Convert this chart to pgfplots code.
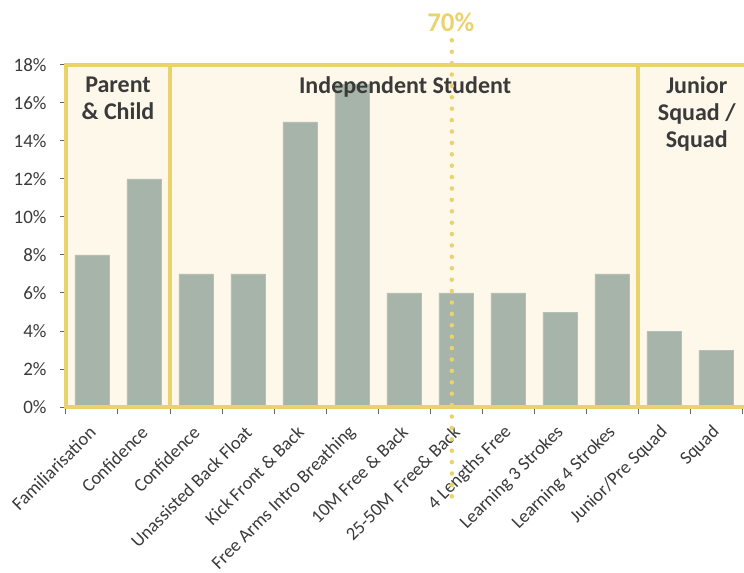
\documentclass[border=0pt]{standalone}
\usepackage{pgfplots}
\pgfplotsset{compat=1.18}
\usepackage{fontspec}
\setmainfont{Carlito}
\definecolor{yel}{HTML}{EAD36C}
\definecolor{cream}{HTML}{FDF8EA}
\definecolor{barc}{HTML}{A7B4AA}
\definecolor{txt}{HTML}{3A3A3A}
\begin{document}
\begin{tikzpicture}
\useasboundingbox (-66bp,-166bp) rectangle (678bp,407bp);
\begin{axis}[
  scale only axis, width=676bp, height=342bp,
  at={(0,0)}, anchor=south west,
  xmin=-0.5, xmax=12.5, ymin=0, ymax=18,
  axis line style={draw=none},
  clip=false,
  tick align=outside,
  xtick={0,...,12},
  xticklabels={Familiarisation,Confidence,Confidence,Unassisted Back Float,Kick Front \& Back,Free Arms Intro Breathing,10M Free \& Back,25-50M\ \ Free\& Back,4 Lengths Free,Learning 3 Strokes,Learning 4 Strokes,Junior/Pre Squad,Squad},
  xtick style={draw=none},
  minor xtick={-0.5,0.5,...,12.5},
  minor x tick style={draw=gray!80!black, line width=1bp},
  minor tick length=7bp,
  xtick pos=bottom, ytick pos=left,
  x tick label style={xshift=3bp, yshift=-14bp, rotate=45, anchor=east, font=\fontsize{18.5bp}{20bp}\selectfont, text=txt},
  ytick={0,2,...,18},
  yticklabels={0\%,2\%,4\%,6\%,8\%,10\%,12\%,14\%,16\%,18\%},
  y tick label style={font=\fontsize{19bp}{21bp}\selectfont, text=txt, xshift=-10bp},
  ytick style={draw=gray!80!black, line width=1bp},
  major tick length=6bp,
]
% section backgrounds
\fill[cream] (axis cs:-0.5,0) rectangle (axis cs:13.5,18);
\addplot[ybar, bar width=0.66, fill=barc, draw=barc!85!white, line width=0.6bp] coordinates {
  (0,8) (1,12) (2,7) (3,7) (4,15) (5,17) (6,6) (7,6) (8,6) (9,5) (10,7) (11,4) (12,3)
};
\draw[yel, line width=3.5bp] (axis cs:13.5,0) -- (axis cs:-0.5,0) -- (axis cs:-0.5,18) -- (axis cs:13.5,18);
\draw[yel, line width=3.5bp] (axis cs:1.5,0) -- (axis cs:1.5,18);
\draw[yel, line width=3.5bp] (axis cs:10.5,0) -- (axis cs:10.5,18);
% titles
\node[anchor=north, align=center, font=\fontsize{24bp}{27bp}\selectfont\bfseries, text=txt] at (axis cs:0.5,17.55) {Parent\\\& Child};
\node[anchor=north, font=\fontsize{24bp}{27bp}\selectfont\bfseries, text=txt] at (axis cs:6.02,17.55) {Independent Student};
\node[anchor=north, align=center, font=\fontsize{24bp}{27bp}\selectfont\bfseries, text=txt] at (axis cs:11.63,17.55) {Junior\\Squad /\\Squad};
% 70% marker
\addplot[yel, line width=4.5bp, line cap=round, dash pattern=on 0bp off 11.4bp] coordinates {(6.92,19.3) (6.92,-4.8)};
\node[font=\fontsize{27bp}{30bp}\selectfont\bfseries, text=yel] at (axis cs:6.9,20.25) {70\%};
\end{axis}
\end{tikzpicture}
\end{document}
